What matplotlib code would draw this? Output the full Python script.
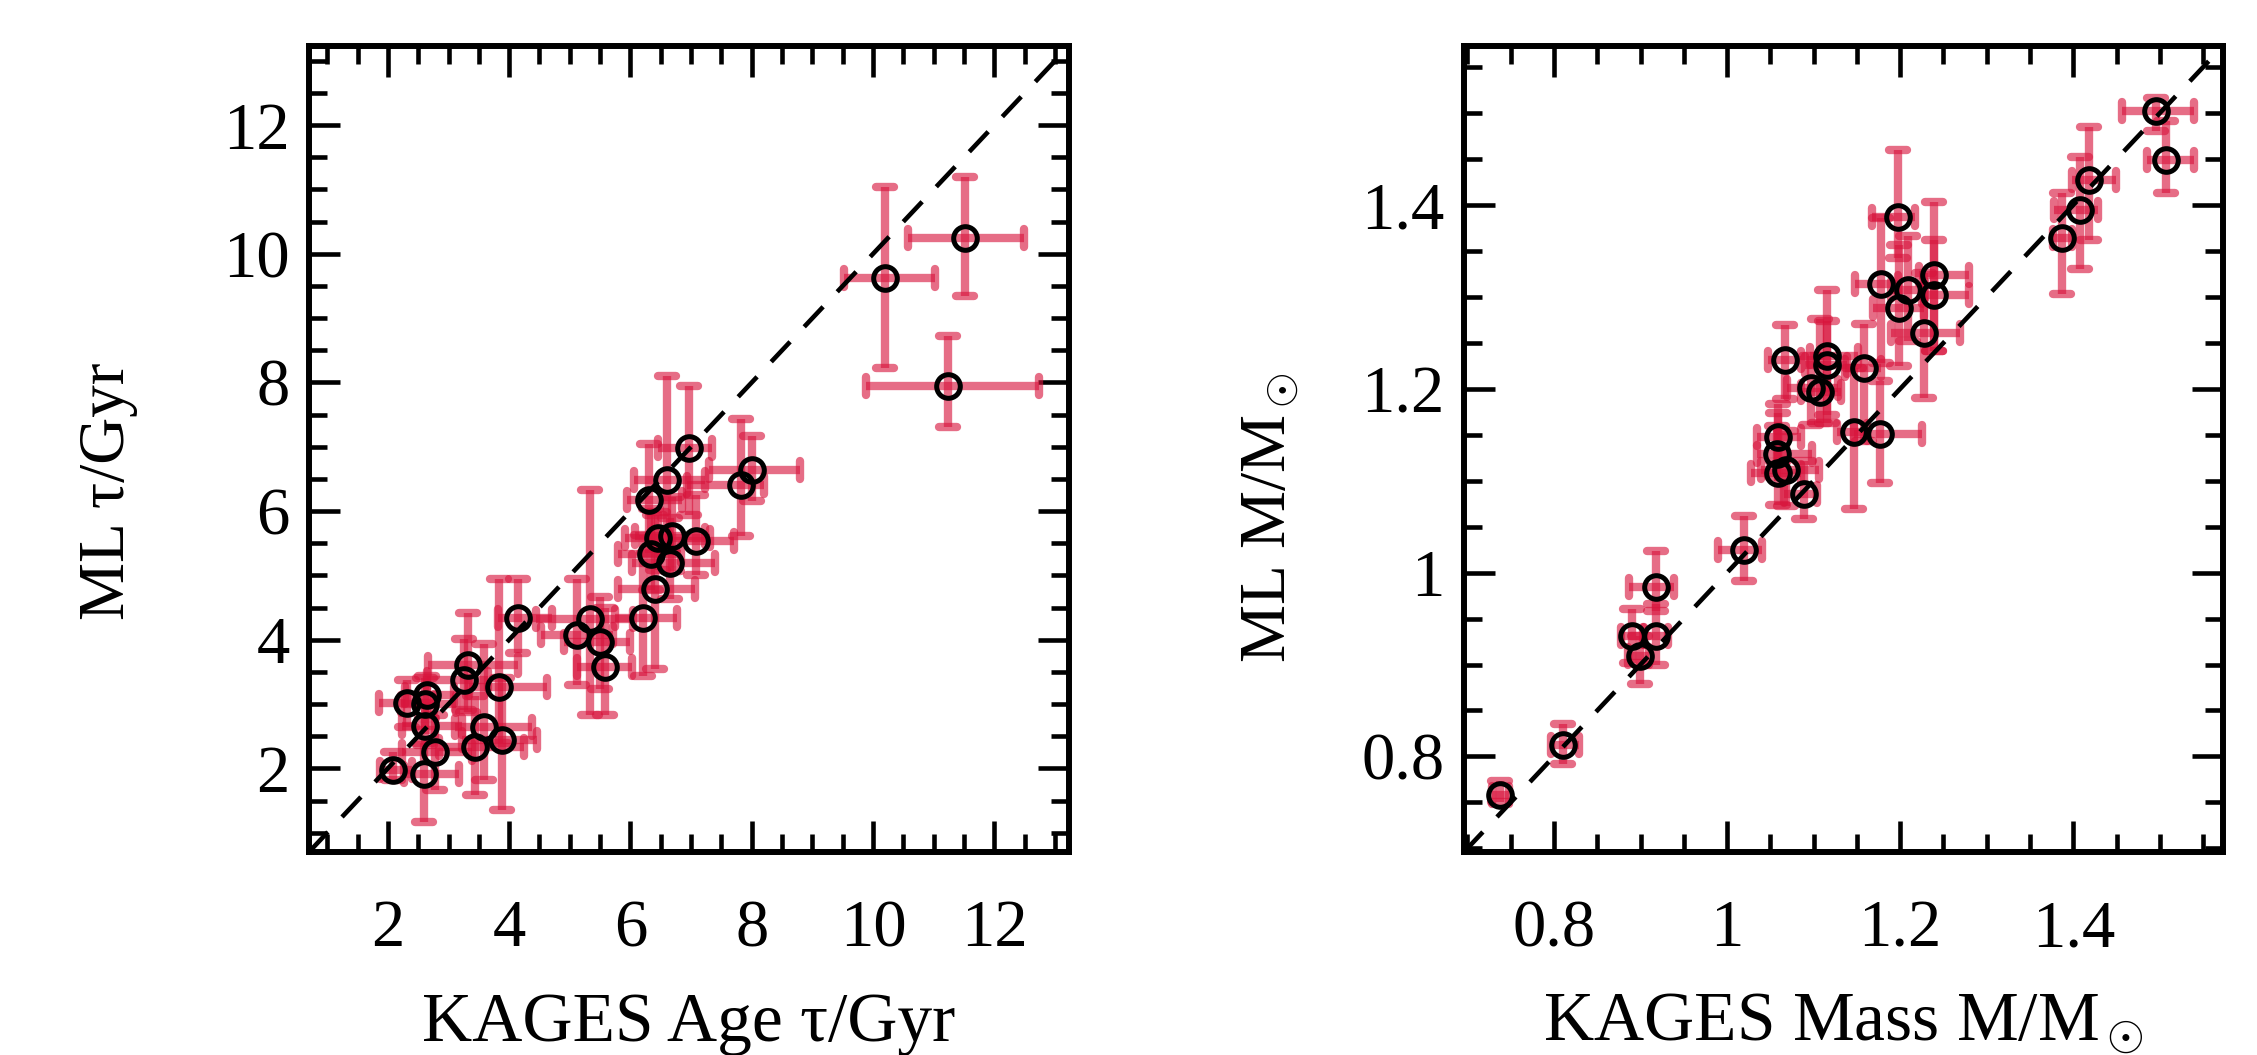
import matplotlib
matplotlib.use("Agg")
import matplotlib.pyplot as plt
from matplotlib.markers import MarkerStyle
from matplotlib.ticker import MultipleLocator

plt.rcParams['font.family'] = ['Liberation Serif', 'DejaVu Serif']
plt.rcParams['mathtext.fontset'] = 'custom'
plt.rcParams['mathtext.rm'] = 'Liberation Serif'
plt.rcParams['mathtext.it'] = 'Liberation Serif:italic'

# ---- left panel: ages (Gyr) ----
age_kages = [11.51, 10.20, 11.23, 6.96, 8.01, 7.82, 6.61, 6.30, 6.46, 6.68, 7.08,
             6.34, 6.65, 6.41, 6.20, 5.34, 5.12, 5.50, 5.58, 4.15, 3.32, 3.25,
             3.84, 2.31, 2.64, 2.62, 2.62, 3.58, 3.44, 3.88, 2.78, 2.09, 2.59]
age_ml = [10.25, 9.62, 7.95, 6.98, 6.64, 6.40, 6.48, 6.17, 5.58, 5.62, 5.53,
          5.33, 5.20, 4.79, 4.33, 4.32, 4.08, 3.97, 3.57, 4.33, 3.61, 3.38,
          3.26, 3.01, 3.14, 3.00, 2.66, 2.65, 2.33, 2.44, 2.26, 1.98, 1.92]
age_kages_lo = [0.94, 0.68, 1.34, 0.50, 0.72, 0.89, 0.56, 0.35, 0.55, 0.60, 0.45,
                0.55, 0.63, 0.61, 0.45, 0.90, 0.60, 0.60, 0.46, 0.33, 0.65, 0.60,
                0.50, 0.45, 0.35, 0.40, 0.39, 0.47, 0.60, 0.66, 0.55, 0.22, 0.33]
age_kages_hi = [0.98, 0.82, 1.50, 0.39, 0.79, 0.38, 0.62, 0.55, 0.85, 0.55, 0.62,
                0.50, 0.75, 0.65, 0.57, 0.70, 0.60, 0.50, 0.44, 0.55, 0.83, 0.40,
                0.78, 0.45, 0.45, 0.50, 0.60, 0.79, 0.80, 0.58, 0.60, 0.30, 0.58]
age_ml_lo = [0.90, 1.39, 0.65, 1.04, 0.49, 0.79, 1.08, 0.82, 0.50, 0.55, 0.52,
             0.56, 0.56, 1.25, 0.90, 1.49, 0.78, 0.73, 0.74, 0.54, 0.73, 0.47,
             0.86, 0.36, 0.35, 0.40, 0.30, 0.83, 0.74, 1.09, 0.59, 0.16, 0.76]
age_ml_hi = [0.94, 1.42, 0.77, 0.97, 0.53, 1.03, 1.62, 0.88, 0.40, 0.60, 0.72,
             0.70, 0.70, 1.15, 1.30, 2.00, 0.87, 0.70, 0.93, 0.61, 0.80, 0.63,
             1.68, 0.37, 0.30, 0.40, 0.35, 1.29, 0.79, 0.96, 0.57, 0.28, 0.47]

# ---- right panel: masses (Msun) ----
mass_kages = [0.738, 0.810, 0.890, 0.899, 0.918, 0.918, 1.020, 1.197, 1.178, 1.209,
              1.199, 1.239, 1.239, 1.228, 1.067, 1.116, 1.116, 1.158, 1.097, 1.107,
              1.059, 1.058, 1.068, 1.059, 1.089, 1.147, 1.177, 1.496, 1.507, 1.418,
              1.408, 1.387]
mass_ml = [0.758, 0.812, 0.931, 0.909, 0.931, 0.984, 1.025, 1.387, 1.314, 1.307,
           1.288, 1.324, 1.302, 1.261, 1.231, 1.236, 1.226, 1.223, 1.201, 1.197,
           1.148, 1.129, 1.112, 1.108, 1.086, 1.153, 1.151, 1.5025, 1.449, 1.427,
           1.3945, 1.3636]
mass_kages_lo = [0.010, 0.014, 0.013, 0.014, 0.014, 0.031, 0.030, 0.030, 0.030, 0.020,
                 0.030, 0.017, 0.014, 0.039, 0.020, 0.020, 0.026, 0.022, 0.028, 0.022,
                 0.024, 0.023, 0.029, 0.031, 0.023, 0.020, 0.030, 0.040, 0.022, 0.019,
                 0.030, 0.010]
mass_kages_hi = [0.010, 0.019, 0.013, 0.011, 0.014, 0.021, 0.020, 0.020, 0.020, 0.020,
                 0.029, 0.040, 0.040, 0.041, 0.018, 0.035, 0.023, 0.020, 0.031, 0.025,
                 0.026, 0.040, 0.038, 0.026, 0.015, 0.015, 0.048, 0.043, 0.032, 0.031,
                 0.021, 0.012]
mass_ml_lo = [0.008, 0.020, 0.029, 0.030, 0.032, 0.026, 0.034, 0.045, 0.086, 0.055,
              0.063, 0.083, 0.061, 0.071, 0.042, 0.073, 0.054, 0.080, 0.040, 0.034,
              0.028, 0.025, 0.039, 0.034, 0.028, 0.084, 0.053, 0.022, 0.036, 0.065,
              0.064, 0.060]
mass_ml_hi = [0.015, 0.023, 0.029, 0.022, 0.035, 0.039, 0.037, 0.073, 0.072, 0.059,
              0.069, 0.079, 0.060, 0.065, 0.038, 0.071, 0.048, 0.047, 0.035, 0.079,
              0.035, 0.030, 0.042, 0.066, 0.035, 0.070, 0.058, 0.014, 0.042, 0.058,
              0.058, 0.049]

AGE_LIM = (0.70, 13.23)
MASS_LIM = (0.696, 1.573)

RED = '#D8143C'


def draw_panel(ax, x, y, xlo, xhi, ylo, yhi, lim, major, minor):
    eb = ax.errorbar(x, y, xerr=[xlo, xhi], yerr=[ylo, yhi], fmt='none',
                     ecolor=RED, alpha=0.62, elinewidth=6, capsize=6.5,
                     capthick=6, zorder=2)
    for cap in eb[1]:
        cap.set_marker(MarkerStyle(cap.get_marker(), capstyle='round'))
    ax.plot(lim, lim, color='black', lw=3.3, dashes=(6, 4.5), zorder=3)
    ax.plot(x, y, 'o', ms=17, mfc='none', mec='black', mew=3.6, zorder=4)

    ax.set_xlim(lim)
    ax.set_ylim(lim)
    ax.xaxis.set_major_locator(MultipleLocator(major))
    ax.yaxis.set_major_locator(MultipleLocator(major))
    ax.xaxis.set_minor_locator(MultipleLocator(minor))
    ax.yaxis.set_minor_locator(MultipleLocator(minor))
    ax.tick_params(which='both', direction='in', top=True, right=True, width=3.3)
    ax.tick_params(which='major', length=22)
    ax.tick_params(which='minor', length=13)
    ax.tick_params(axis='x', which='major', pad=34, labelsize=48)
    ax.tick_params(axis='y', which='major', pad=14, labelsize=48)
    for s in ax.spines.values():
        s.set_linewidth(4.3)


def fmt_num(v, pos):
    return f'{v:g}'


fig = plt.figure(figsize=(22.57, 10.55), dpi=100)
ax1 = fig.add_axes([309 / 2257, 203 / 1055, 760 / 2257, 806 / 1055])
ax2 = fig.add_axes([1464 / 2257, 203 / 1055, 759 / 2257, 806 / 1055])

draw_panel(ax1, age_kages, age_ml, age_kages_lo, age_kages_hi, age_ml_lo, age_ml_hi,
           AGE_LIM, 2, 0.5)
draw_panel(ax2, mass_kages, mass_ml, mass_kages_lo, mass_kages_hi, mass_ml_lo, mass_ml_hi,
           MASS_LIM, 0.2, 0.05)
ax2.xaxis.set_major_formatter(fmt_num)
ax2.yaxis.set_major_formatter(fmt_num)

ax1.set_xlabel('KAGES Age τ/Gyr', fontsize=50, va='baseline')
ax2.set_xlabel(r'KAGES Mass M/M$_\odot$', fontsize=50, va='baseline')
ax1.set_ylabel('ML τ/Gyr', fontsize=47)
ax2.set_ylabel(r'ML M/M$_\odot$', fontsize=47)
ax1.xaxis.set_label_coords(0.5, -0.234)
ax2.xaxis.set_label_coords(0.5, -0.234)
ax1.yaxis.set_label_coords(-0.225, 0.448)
ax2.yaxis.set_label_coords(-0.215, 0.415)

fig.savefig('out.png', dpi=100)
